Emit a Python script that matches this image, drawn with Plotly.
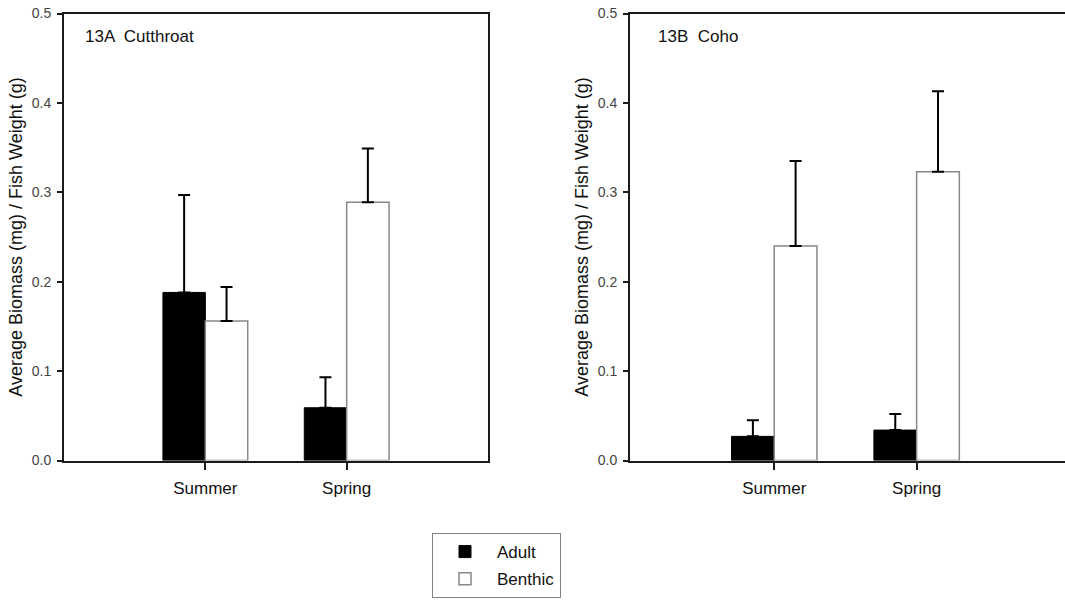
import plotly.graph_objects as go

# ---- data ----
seasons = ["Summer", "Spring"]
cut_adult = [0.188, 0.059]
cut_adult_err = [0.109, 0.034]
cut_benthic = [0.156, 0.289]
cut_benthic_err = [0.038, 0.060]
coho_adult = [0.027, 0.034]
coho_adult_err = [0.018, 0.018]
coho_benthic = [0.240, 0.323]
coho_benthic_err = [0.095, 0.090]
y_ticks = [0.0, 0.1, 0.2, 0.3, 0.4, 0.5]
y_ticklabels = ["0.0", "0.1", "0.2", "0.3", "0.4", "0.5"]

FONT = "Liberation Sans, Arial, sans-serif"
W, H = 1065, 600

fig = go.Figure()

def add_pair(adult, adult_err, benthic, benthic_err, xa, ya, show):
    fig.add_trace(go.Bar(
        x=seasons, y=adult, name="Adult", xaxis=xa, yaxis=ya,
        marker=dict(color="black", line=dict(color="black", width=1)),
        error_y=dict(type="data", array=adult_err, arrayminus=[0] * len(adult_err),
                     symmetric=False, color="black", thickness=2, width=6),
        showlegend=show, legendgroup="Adult"))
    fig.add_trace(go.Bar(
        x=seasons, y=benthic, name="Benthic", xaxis=xa, yaxis=ya,
        marker=dict(color="white", line=dict(color="#888888", width=1.5)),
        error_y=dict(type="data", array=benthic_err, arrayminus=[0] * len(benthic_err),
                     symmetric=False, color="black", thickness=2, width=6),
        showlegend=show, legendgroup="Benthic"))

add_pair(cut_adult, cut_adult_err, cut_benthic, cut_benthic_err, "x", "y", True)
add_pair(coho_adult, coho_adult_err, coho_benthic, coho_benthic_err, "x2", "y2", False)

ydom = [1 - 460.5 / H, 1 - 13.5 / H]

xcommon = dict(type="category", showline=True, linecolor="#1a1a1a", linewidth=2,
               ticks="outside", ticklen=7, tickwidth=2, tickcolor="#1a1a1a",
               showgrid=False, zeroline=False, mirror=True, automargin=False,
               ticklabelstandoff=4,
               tickfont=dict(family=FONT, size=17, color="#111111"))
ycommon = dict(range=[0, 0.5], tickvals=y_ticks, ticktext=y_ticklabels,
               showline=True, linecolor="#1a1a1a", linewidth=2,
               ticks="outside", ticklen=5, tickwidth=1.5, tickcolor="#1a1a1a",
               showgrid=False, zeroline=False, automargin=False,
               ticklabelstandoff=3,
               tickfont=dict(family=FONT, size=14, color="#444444"),
               title=dict(text="Average Biomass (mg) / Fish Weight (g)",
                          font=dict(family=FONT, size=18, color="#111111"), standoff=4))

fig.update_layout(
    width=W, height=H,
    margin=dict(l=0, r=0, t=0, b=0, autoexpand=False),
    paper_bgcolor="white", plot_bgcolor="white",
    barmode="group", bargap=0.4, bargroupgap=0,
    xaxis=dict(domain=[64 / W, 488 / W], range=[-1, 2], anchor="y", **xcommon),
    yaxis=dict(domain=ydom, anchor="x", mirror=True, **ycommon),
    xaxis2=dict(domain=[630 / W, 1.0], range=[-1.013, 2.042], anchor="y2", **xcommon),
    yaxis2=dict(domain=ydom, anchor="x2", mirror=False, **ycommon),
    showlegend=True,
    legend=dict(x=432 / W, y=1 - 533 / H, xanchor="left", yanchor="top",
                bordercolor="#808080", borderwidth=1, bgcolor="white",
                font=dict(family=FONT, size=17, color="#111111"),
                itemwidth=54, tracegroupgap=2),
    annotations=[
        dict(text="13A  Cutthroat", x=83 / W, y=1 - 37 / H, xref="paper", yref="paper",
             xanchor="left", yanchor="middle", showarrow=False,
             font=dict(family=FONT, size=17, color="#111111")),
        dict(text="13B  Coho", x=656 / W, y=1 - 36 / H, xref="paper", yref="paper",
             xanchor="left", yanchor="middle", showarrow=False,
             font=dict(family=FONT, size=17, color="#111111")),
    ],
)

fig.write_html("out.html", config={"displayModeBar": False},
               post_script="document.body.style.margin='0';document.body.style.overflow='hidden';")
